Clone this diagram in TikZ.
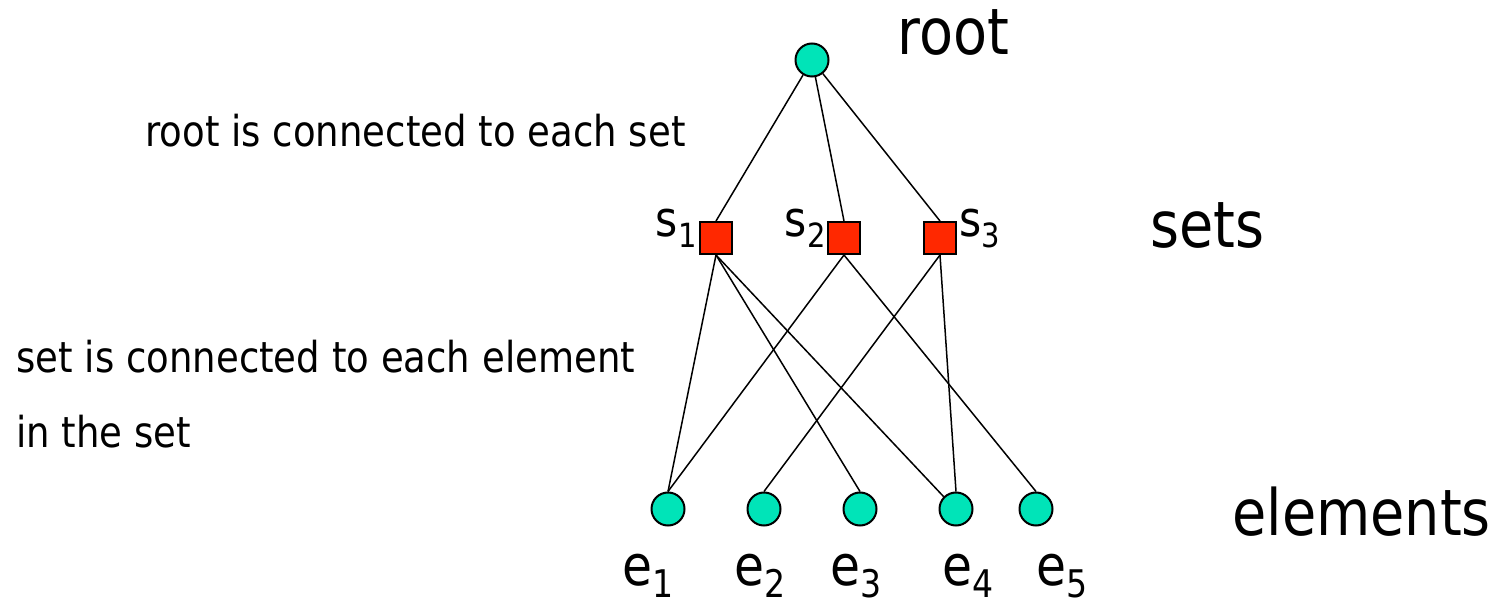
\documentclass[tikz,border=0pt]{standalone}
\usepackage{graphicx}
\usepackage{fontspec}
\setmainfont{DejaVu Sans}[FakeStretch=0.87]
\usepackage{tikz}
\usetikzlibrary{positioning}

\definecolor{elemgreen}{RGB}{0,228,184}
\definecolor{setred}{RGB}{255,40,0}
\newcommand{\idx}[1]{\raisebox{-0.22em}{\scalebox{0.68}{#1}}}

\begin{document}
\begin{tikzpicture}[x=0.5pt,y=-0.5pt]
	 \tikzstyle{elem}=[circle,draw,line width=1pt,fill=elemgreen,minimum size=16.5pt,inner sep=0pt]
	 \tikzstyle{set}=[rectangle,draw,line width=1pt,fill=setred,minimum size=16pt,inner sep=0pt]
	 \tikzstyle{edge} = [draw,line width=0.75pt,-,black]
	 \tikzstyle{big}=[inner sep=0pt,anchor=base west,font=\fontsize{32}{38}\selectfont]
	 \tikzstyle{note}=[inner sep=0pt,anchor=base west,font=\fontsize{21.3}{26}\selectfont]
	 \useasboundingbox (0,0) rectangle (1494,604);

	 \node[elem] (root) at (812,60) {};
	 \node[set] (s1) at (716,238) {};
	 \node[set] (s2) at (844,238) {};
	 \node[set] (s3) at (940,238) {};
	 \node[elem] (e1) at (668,509) {};
	 \node[elem] (e2) at (764,509) {};
	 \node[elem] (e3) at (860,509) {};
	 \node[elem] (e4) at (956,509) {};
	 \node[elem] (e5) at (1036,509) {};

	 % labels of the nodes
	 \tikzstyle{slabel}=[inner sep=0pt,anchor=base,font=\fontsize{24.5}{30}\selectfont]
	 \tikzstyle{elabel}=[inner sep=0pt,anchor=base,font=\fontsize{28}{34}\selectfont]
	 \node[slabel,anchor=base east] (l1) at (697,237) {s\idx{1}};
	 \node[slabel,anchor=base east] (l2) at (826,237) {s\idx{2}};
	 \node[slabel,anchor=base west] (l3) at (959,237) {s\idx{3}};
	 \node[elabel] (le1) at (648,585) {e\idx{1}};
	 \node[elabel] (le2) at (760,585) {e\idx{2}};
	 \node[elabel] (le3) at (856,585) {e\idx{3}};
	 \node[elabel] (le4) at (968,585) {e\idx{4}};
	 \node[elabel] (le5) at (1062,585) {e\idx{5}};

	 \draw[edge] (root) -- (s1.north);
	 \draw[edge] (root) -- (s2.north);
	 \draw[edge] (root) -- (s3.north);
	 \draw[edge] (s1.south) -- (e1.north);
	 \draw[edge] (s1.south) -- (e3.north);
	 \draw[edge] (s1.south) -- (e4.north west);
	 \draw[edge] (s2.south) -- (e1.north);
	 \draw[edge] (s2.south) -- (e5.north);
	 \draw[edge] (s3.south) -- (e2.north);
	 \draw[edge] (s3.south) -- (e4.north);

	 \node[big] (troot) at (897,55) {root};
	 \node[big] (tsets) at (1150,248) {sets};
	 \node[big] (telem) at (1232,535) {elements};
	 \node[note] (n1) at (145,147) {root is connected to each set};
	 \node[note] (n2) at (16,372) {set is connected to each element};
	 \node[note] (n3) at (16,447) {in the set};

 \end{tikzpicture}
\end{document}
